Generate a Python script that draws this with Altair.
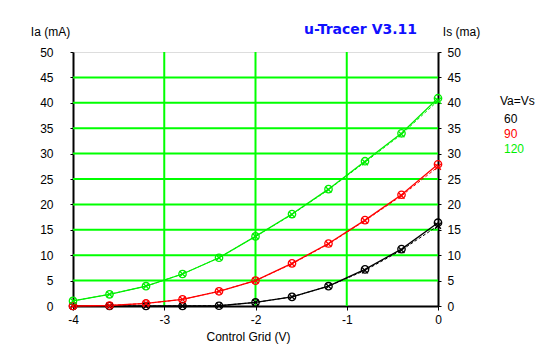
import altair as alt
import pandas as pd

grid_v = [-4, -3.6, -3.2, -2.8, -2.4, -2.0, -1.6, -1.2, -0.8, -0.4, 0.0]
ia_60 = [0.0, 0.0, 0.0, 0.0, 0.05, 0.7, 1.8, 3.9, 7.2, 11.2, 16.4]
ia_90 = [0.0, 0.1, 0.5, 1.3, 2.9, 5.0, 8.4, 12.3, 16.9, 21.9, 27.9]
ia_120 = [1.0, 2.3, 3.9, 6.3, 9.5, 13.7, 18.1, 23.0, 28.5, 34.0, 40.9]
is_60 = [0.0, 0.0, 0.0, 0.0, 0.05, 0.7, 1.8, 3.9, 7.0, 11.0, 15.8]
is_90 = [0.0, 0.1, 0.5, 1.3, 2.9, 5.0, 8.3, 12.2, 16.8, 21.7, 27.4]
is_120 = [1.0, 2.3, 3.9, 6.3, 9.5, 13.7, 18.0, 22.9, 28.3, 33.8, 40.4]
series = ["60", "90", "120"]
colors = ["#000000", "#ff0000", "#00ee00"]
y_ticks = [0, 5, 10, 15, 20, 25, 30, 35, 40, 45, 50]
x_ticks = [-4, -3, -2, -1, 0]
grid_x = [-3, -2, -1]
grid_y = [5, 10, 15, 20, 25, 30, 35, 40, 45]

rows = []
for name, ia, isv in zip(series, [ia_60, ia_90, ia_120], [is_60, is_90, is_120]):
    for g, a, s in zip(grid_v, ia, isv):
        rows.append({"Vg": g, "val": a, "kind": "Ia", "Va": name})
        rows.append({"Vg": g, "val": s, "kind": "Is", "Va": name})
df = pd.DataFrame(rows)

W, H = 365, 254
FONT = "Liberation Sans"
xs = alt.Scale(domain=[-4, 0], nice=False, zero=False)
ys = alt.Scale(domain=[0, 50], nice=False)
col = alt.Color("Va:N", scale=alt.Scale(domain=series, range=colors), legend=None)

x_axis = alt.Axis(
    values=x_ticks, grid=False, domainColor="black", domainWidth=2, tickColor="black",
    tickSize=4, labelPadding=4, labelFont=FONT, labelFontSize=12, labelColor="black",
    labelFlush=False, labelExpr="datum.value + ''", title="Control Grid (V)", titleFont=FONT,
    titleFontSize=12, titleFontWeight="normal", titleColor="black",
    titleX=175, titleY=30, titleBaseline="middle", titleAlign="center")
y_axis = alt.Axis(
    orient="left", values=y_ticks, grid=False, domainColor="black", domainWidth=2,
    tickColor="black", tickSize=3, labelPadding=17, labelFont=FONT, labelFontSize=12,
    labelColor="black", labelFlush=False, title="Ia (mA)", titleAngle=0, titleFont=FONT,
    titleFontSize=12, titleFontWeight="normal", titleColor="black", titleX=-23, titleY=-21,
    titleAlign="center", titleBaseline="middle")
X = alt.X("Vg:Q", scale=xs, axis=x_axis, title="Control Grid (V)")
Y = alt.Y("val:Q", scale=ys, axis=y_axis, title="Ia (mA)")

gx = alt.Chart(pd.DataFrame({"Vg": grid_x})).mark_rule(color="#00ff00", strokeWidth=2).encode(x=X)
gy = alt.Chart(pd.DataFrame({"val": grid_y})).mark_rule(color="#00ff00", strokeWidth=2).encode(y=Y)

base = alt.Chart(df)
line_ia = base.transform_filter("datum.kind == 'Ia'").mark_line(strokeWidth=1.3).encode(
    x=X, y=Y, color=col, detail="Va:N")
line_is = base.transform_filter("datum.kind == 'Is'").mark_line(
    strokeWidth=1, strokeDash=[3, 2]).encode(x=X, y=Y, color=col, detail="Va:N")
pts_ia = base.transform_filter("datum.kind == 'Ia'").mark_point(
    shape="circle", filled=False, size=55, strokeWidth=1.3, opacity=1).encode(x=X, y=Y, color=col)
pts_is = base.transform_filter("datum.kind == 'Is'").mark_point(
    shape="M-1,-1L1,1M1,-1L-1,1", filled=False, size=35, strokeWidth=1.3, opacity=1).encode(
    x=X, y=Y, color=col)

main = alt.layer(gx, gy, line_is, line_ia, pts_ia, pts_is)

right = alt.Chart(pd.DataFrame({"v": [0, 50]})).mark_point(opacity=0).encode(
    y=alt.Y("v:Q", scale=ys, axis=alt.Axis(
        orient="right", values=y_ticks, grid=False, domainColor="black", domainWidth=2,
        tickColor="black", tickSize=3, labelPadding=6, labelFont=FONT, labelFontSize=12,
        labelColor="black", labelFlush=False, title="Is (ma)", titleAngle=0, titleFont=FONT,
        titleFontSize=12, titleFontWeight="normal", titleColor="black", titleX=23, titleY=-21,
        titleAlign="center", titleBaseline="middle")))

one = alt.Data(values=[{"a": 1}])
title = alt.Chart(one).mark_text(font="DejaVu Sans", fontSize=14, fontWeight="bold",
                                 color="#1010ff", align="center", baseline="middle").encode(
    x=alt.value(287.5), y=alt.value(-22), text=alt.value("u-Tracer V3.11"))

leg_labels = ["Va=Vs", "60", "90", "120"]
leg_colors = ["#000000", "#000000", "#ff0000", "#00ee00"]
leg_x = [427, 431, 431, 431]
leg_y = [48.5, 67, 82, 97]
legs = [alt.Chart(one).mark_text(font=FONT, fontSize=12, color=c, align="left",
                                 baseline="middle").encode(
    x=alt.value(lx), y=alt.value(ly), text=alt.value(t))
    for t, c, lx, ly in zip(leg_labels, leg_colors, leg_x, leg_y)]

chart = alt.layer(main, right, title, *legs).resolve_scale(y="independent").properties(
    width=W, height=H, autosize=alt.AutoSizeParams(type="none"),
    padding={"left": 65, "top": 44, "right": 101, "bottom": 43},
).configure_view(stroke="black", strokeWidth=2).configure(background="white")

chart.save("out.html", embed_options={"renderer": "svg", "actions": False})
